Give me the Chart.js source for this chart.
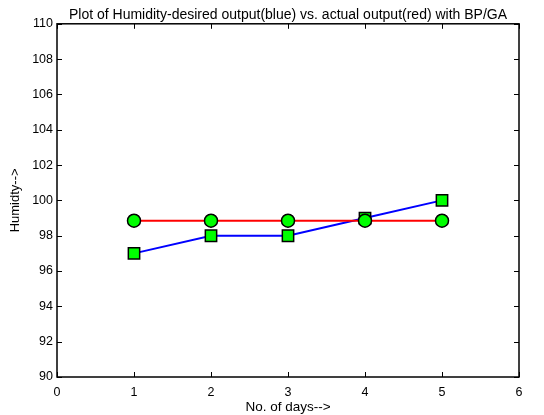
<!DOCTYPE html>
<html>
<head>
<meta charset="utf-8">
<script src="https://cdn.jsdelivr.net/npm/chart.js@4"></script>
<style>
  html, body { margin: 0; padding: 0; background: #fff; }
  #wrap { width: 544px; height: 415px; }
</style>
</head>
<body>
<div id="wrap"><canvas id="grafico" width="544" height="415"></canvas></div>
<script>
// datos
const dias = [1, 2, 3, 4, 5];
const humedadDeseada = [97, 98, 98, 99, 100];        // azul
const humedadReal = [98.85, 98.85, 98.85, 98.85, 98.85]; // rojo
const ticksX = [0, 1, 2, 3, 4, 5, 6];
const ticksY = [90, 92, 94, 96, 98, 100, 102, 104, 106, 108, 110];

const fuente = "'Liberation Sans', Arial, sans-serif";

// caja y marcas hacia dentro, estilo MATLAB
const cajaMatlab = {
    id: 'cajaMatlab',
    afterDatasetsDraw(chart) {
        const { ctx, chartArea: a, scales } = chart;
        ctx.save();
        ctx.strokeStyle = '#000';
        ctx.lineWidth = 1;
        ctx.beginPath();
        ticksX.forEach(v => {
            const x = Math.round(scales.x.getPixelForValue(v)) + 0.5;
            ctx.moveTo(x, a.bottom); ctx.lineTo(x, a.bottom - 5);
            ctx.moveTo(x, a.top); ctx.lineTo(x, a.top + 5);
        });
        ticksY.forEach(v => {
            const y = Math.round(scales.y.getPixelForValue(v)) + 0.5;
            ctx.moveTo(a.left, y); ctx.lineTo(a.left + 5, y);
            ctx.moveTo(a.right, y); ctx.lineTo(a.right - 5, y);
        });
        ctx.stroke();
        ctx.lineWidth = 1.5;
        ctx.strokeRect(a.left, a.top, a.right - a.left, a.bottom - a.top);
        ctx.restore();
    }
};

new Chart(document.getElementById('grafico'), {
    type: 'line',
    data: {
        datasets: [
            {
                label: 'real',
                data: dias.map((d, i) => ({ x: d, y: humedadReal[i] })),
                borderColor: '#ff0000',
                borderWidth: 2,
                pointStyle: 'circle',
                pointRadius: 6.5,
                pointBackgroundColor: '#00ff00',
                pointBorderColor: '#000',
                pointBorderWidth: 1.5
            },
            {
                label: 'deseada',
                data: dias.map((d, i) => ({ x: d, y: humedadDeseada[i] })),
                borderColor: '#0000ff',
                borderWidth: 2,
                pointStyle: 'rect',
                pointRadius: 8,
                pointBackgroundColor: '#00ff00',
                pointBorderColor: '#000',
                pointBorderWidth: 1.5
            }
        ]
    },
    options: {
        responsive: false,
        animation: false,
        layout: { padding: { left: 0, right: 25, top: 0, bottom: 0 } },
        plugins: {
            legend: { display: false },
            tooltip: { enabled: false },
            title: {
                display: true,
                fullSize: false,
                text: 'Plot of Humidity-desired output(blue) vs. actual output(red) with BP/GA',
                color: '#000',
                font: { family: fuente, size: 14, weight: 'normal' },
                padding: { top: 7, bottom: 0 }
            }
        },
        scales: {
            x: {
                type: 'linear',
                min: 0, max: 6,
                afterBuildTicks: s => { s.ticks = ticksX.map(v => ({ value: v })); },
                afterFit: s => { s.height = 38; },
                grid: { display: false, drawTicks: false },
                border: { display: false },
                ticks: { color: '#000', padding: 8, font: { family: fuente, size: 12.5 } },
                title: {
                    display: true,
                    text: 'No. of days-->',
                    color: '#000',
                    font: { family: fuente, size: 13.5 },
                    padding: { top: 0, bottom: 0 }
                }
            },
            y: {
                min: 90, max: 110,
                afterBuildTicks: s => { s.ticks = ticksY.map(v => ({ value: v })); },
                afterFit: s => { s.width = 57; },
                grid: { display: false, drawTicks: false },
                border: { display: false },
                ticks: { color: '#000', padding: 4, font: { family: fuente, size: 12.5 } },
                title: {
                    display: true,
                    text: 'Humidty-->',
                    color: '#000',
                    font: { family: fuente, size: 13 },
                    padding: { top: 8, bottom: 0 }
                }
            }
        }
    },
    plugins: [cajaMatlab]
});
</script>
</body>
</html>
